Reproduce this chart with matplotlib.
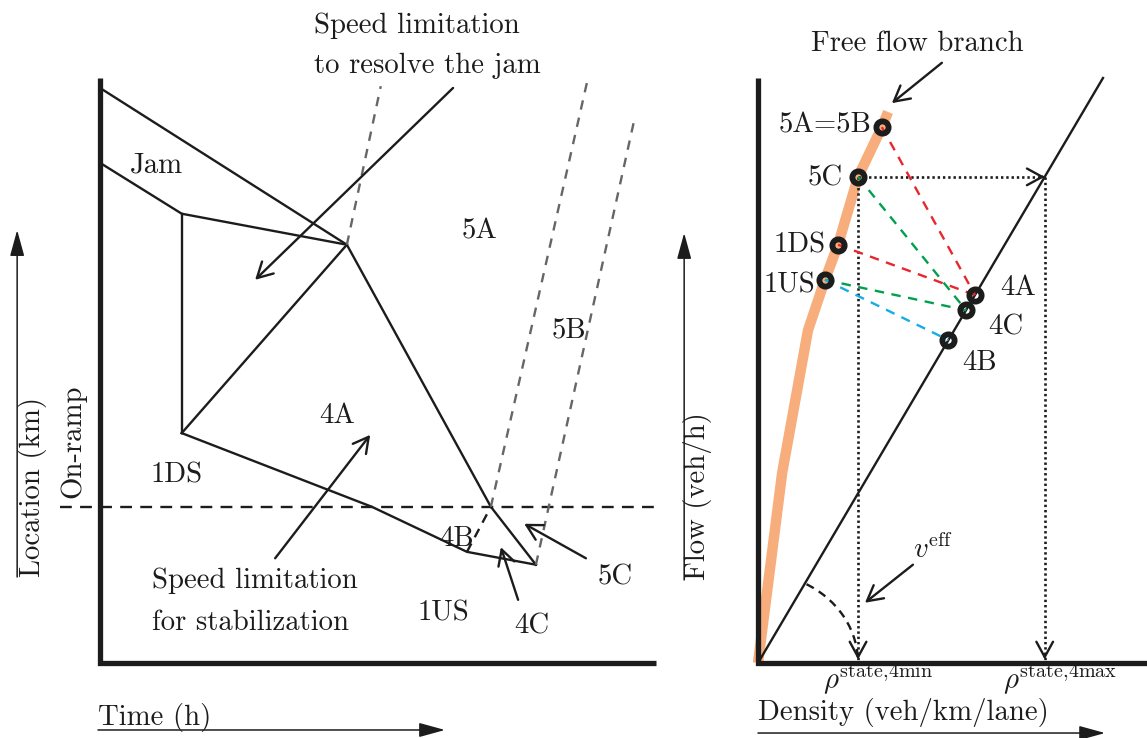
import matplotlib
matplotlib.use("Agg")
import matplotlib.pyplot as plt
from matplotlib.patches import Arc

plt.rcParams['font.family'] = 'cmr10'
plt.rcParams['mathtext.fontset'] = 'cm'
plt.rcParams['axes.unicode_minus'] = False

# ---------------- space-time diagram (time t, location s; 0..100 units) ----------------
frame_t = [0, 0, 100]
frame_s = [100, 0, 0]

upstream_front_t = [0, 44.4, 70.3, 78.4]
upstream_front_s = [98.3, 71.5, 26.7, 16.8]
jam_tail_t = [0, 14.7, 44.4]
jam_tail_s = [85.5, 76.8, 71.5]
ds_vertical_t = [14.7, 14.7]
ds_vertical_s = [76.8, 39.3]
ds_diag_t = [14.7, 44.4]
ds_diag_s = [39.3, 71.5]
lower_front_t = [14.7, 48.9, 66.0, 78.4]
lower_front_s = [39.3, 26.7, 19.0, 16.8]
state4b_t = [66.0, 70.3]
state4b_s = [19.0, 26.7]
onramp_t = [-7.2, 100]
onramp_s = [26.7, 26.7]

# grey dashed boundaries of the 5A / 5B / 5C regions
vsl_t = [[44.4, 50.5], [70.3, 87.6], [78.4, 96.2]]
vsl_s = [[71.5, 98.6], [26.7, 99.3], [16.8, 93.3]]

# region labels (x centre, baseline)
st_labels = ['Jam', '5A', '5B', '4A', '1DS', '4B', '1US', '4C', '5C']
st_label_t = [10.1, 68.3, 84.4, 42.6, 13.8, 64.2, 61.7, 77.7, 92.6]
st_label_s = [83.9, 72.6, 55.6, 41.0, 30.8, 20.0, 7.35, 4.96, 13.5]

# pointer arrows (tail -> head)
st_arrows = [((63.5, 98.3), (27.9, 65.5)),
             ((31.5, 17.9), (48.6, 39.0)),
             ((75.2, 10.8), (72.1, 19.8)),
             ((87.4, 17.9), (76.3, 23.8))]

# ---------------- fundamental diagram (density rho, flow q; 0..100 units) ----------------
fd_frame_rho = [0, 0, 112.8]
fd_frame_q = [100, 0, 0]
veff_rho = [0, 100]
veff_q = [0, 100]
free_rho = [0, 7.0, 14.5, 19.4, 23.2, 29.0, 35.9, 37.7]
free_q = [0, 32.5, 56.9, 65.5, 71.5, 83.1, 91.6, 94.2]

state_names = ['5A=5B', '5C', '1DS', '1US', '4A', '4C', '4B']
state_rho = [35.9, 29.0, 23.2, 19.4, 62.9, 60.3, 55.2]
state_q = [91.6, 83.1, 71.5, 65.5, 62.9, 60.3, 55.2]
state_lab_rho = [33.0, 24.6, 19.7, 16.5, 70.1, 66.7, 59.1]
state_lab_q = [90.6, 81.7, 70.1, 63.4, 62.9, 56.1, 50.1]
state_lab_ha = ['right', 'right', 'right', 'right', 'left', 'left', 'left']

# transitions between states (from, to, colour)
transitions = [('5A=5B', '4A', '#e8262d'),
               ('1DS', '4A', '#e8262d'),
               ('5C', '4C', '#00a04e'),
               ('1US', '4C', '#00a04e'),
               ('1US', '4B', '#13aee6')]

INK = '#1c1c1c'
FS = 20.7
W, H = 1147, 738

fig = plt.figure(figsize=(W / 100, H / 100), dpi=100)
axL = fig.add_axes([100 / W, 75 / H, 556 / W, 585 / H])
axR = fig.add_axes([758 / W, 75 / H, 345 / W, 585 / H])
for ax in (axL, axR):
    ax.set_xlim(0, 100)
    ax.set_ylim(0, 100)
    ax.axis('off')


def pointer(ax, tail, head, lw=1.7):
    ax.annotate('', xy=head, xytext=tail, annotation_clip=False,
                arrowprops=dict(arrowstyle='->,head_length=0.55,head_width=0.3',
                                lw=lw, color=INK, shrinkA=0, shrinkB=0,
                                mutation_scale=20))


def axis_arrow(ax, tail, head):
    ax.annotate('', xy=head, xytext=tail, annotation_clip=False,
                arrowprops=dict(arrowstyle='-|>,head_length=0.8,head_width=0.22',
                                lw=1.1, color=INK, fc=INK, shrinkA=0, shrinkB=0,
                                mutation_scale=20))


def label(ax, x, y, s, ha='center', **kw):
    ax.text(x, y, s, fontsize=FS, ha=ha, va='baseline', color=INK,
            clip_on=False, **kw)


# ---- left panel ----
lw = 1.7
axL.plot(frame_t, frame_s, color=INK, lw=3.8, solid_joinstyle='miter',
         solid_capstyle='butt', clip_on=False)
for tt, ss in [(upstream_front_t, upstream_front_s), (jam_tail_t, jam_tail_s),
               (ds_vertical_t, ds_vertical_s), (ds_diag_t, ds_diag_s),
               (lower_front_t, lower_front_s)]:
    axL.plot(tt, ss, color=INK, lw=lw, solid_joinstyle='miter', clip_on=False)
axL.plot(state4b_t, state4b_s, color=INK, lw=lw, ls=(0, (4, 3)), clip_on=False)
axL.plot(onramp_t, onramp_s, color=INK, lw=lw, ls=(0, (5, 3.5)), clip_on=False)
for tt, ss in zip(vsl_t, vsl_s):
    axL.plot(tt, ss, color='#666666', lw=lw, ls=(0, (4, 3.5)), clip_on=False)

for txt, t, s in zip(st_labels, st_label_t, st_label_s):
    label(axL, t, s, txt)
for tail, head in st_arrows:
    pointer(axL, tail, head)

label(axL, 38.5, 107.7, 'Speed limitation', ha='left')
label(axL, 38.5, 100.9, 'to resolve the jam', ha='left')
label(axL, 9.35, 12.8, 'Speed limitation', ha='left')
label(axL, 9.35, 5.6, 'for stabilization', ha='left')

label(axL, -3.6, 37.9, 'On-ramp', rotation=90, rotation_mode='anchor')
label(axL, -10.8, 14.7, 'Location (km)', ha='left', rotation=90,
      rotation_mode='anchor')
axis_arrow(axL, (-14.9, 14.7), (-14.9, 74.0))
label(axL, -0.36, -10.6, 'Time (h)', ha='left')
axis_arrow(axL, (-0.36, -11.45), (62.05, -11.45))

# ---- right panel ----
axR.plot(free_rho, free_q, color='#f7ad7c', lw=7.5, solid_capstyle='butt',
         solid_joinstyle='round', zorder=1, clip_on=False)
axR.plot(veff_rho, veff_q, color=INK, lw=lw, zorder=2, clip_on=False)
axR.plot(fd_frame_rho, fd_frame_q, color=INK, lw=3.8, solid_joinstyle='miter',
         solid_capstyle='butt', clip_on=False, zorder=5)

pos = {n: (r, q) for n, r, q in zip(state_names, state_rho, state_q)}
for a, b, c in transitions:
    axR.plot([pos[a][0], pos[b][0]], [pos[a][1], pos[b][1]], color=c, lw=lw,
             ls=(0, (4, 3.2)), zorder=3)

# projection of state 5C onto the effective-speed line
r5c, q5c = pos['5C']
dotted = (0, (0.9, 1.1))
axR.plot([r5c, q5c], [q5c, q5c], color=INK, lw=1.9, ls=dotted, zorder=2)
axR.plot([r5c, r5c], [q5c, 0], color=INK, lw=1.9, ls=dotted, zorder=2)
axR.plot([q5c, q5c], [q5c, 0], color=INK, lw=1.9, ls=dotted, zorder=2)
pointer(axR, (q5c - 0.8, q5c), (q5c, q5c))
pointer(axR, (r5c, 1.5), (r5c, 0.6))
pointer(axR, (q5c, 1.5), (q5c, 0.6))

axR.plot(state_rho, state_q, ls='none', marker='o', ms=8.8, mfc='none',
         mec=INK, mew=4.2, zorder=4)
for n, rx, qy, ha in zip(state_names, state_lab_rho, state_lab_q, state_lab_ha):
    label(axR, rx, qy, n, ha=ha)

axR.add_patch(Arc((0, 0), 58, 30.8, theta1=2, theta2=45, color=INK, lw=1.7,
                  ls=(0, (3.5, 2.5))))
label(axR, 44.9, 17.9, r'$v^{\mathrm{eff}}$', ha='left')
pointer(axR, (44.9, 16.8), (31.0, 10.3))

label(axR, 46.1, 104.6, 'Free flow branch')
pointer(axR, (53.3, 102.6), (38.8, 95.7))

label(axR, 18.8, -4.3, r'$\rho^{\mathrm{state{,}4min}}$', ha='left')
label(axR, 71.0, -4.3, r'$\rho^{\mathrm{state{,}4max}}$', ha='left')

label(axR, 0, -9.74, 'Density (veh/km/lane)', ha='left')
axis_arrow(axR, (0, -11.97), (100.6, -11.97))
label(axR, -15.4, 14.2, 'Flow (veh/h)', ha='left', rotation=90,
      rotation_mode='anchor')
axis_arrow(axR, (-21.4, 14.2), (-21.4, 73.5))

fig.savefig('out.png', dpi=100)
